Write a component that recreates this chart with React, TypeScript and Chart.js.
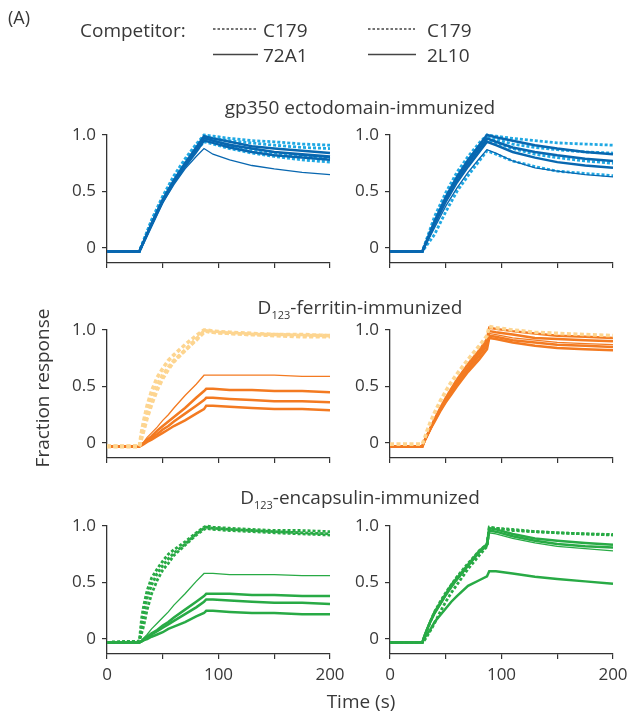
import React, { useEffect, useRef } from "react";
import { Chart, registerables } from "chart.js";

Chart.register(...registerables);

const FONT = "'Open Sans', sans-serif";
const TEXT = "#383838";
const AXIS = "#333333";

// ---- axis ticks ----
const X_TICKS = [0, 50, 100, 150, 200];
const X_TICK_LABELS = ["0", "", "100", "", "200"];
const Y_TICKS = [0, 0.5, 1.0];
const Y_TICK_LABELS = ["0", "0.5", "1.0"];

// ---- colours ----
const BLUE_DARK = "#0867b0";
const BLUE_LIGHT = "#1fa8e3";
const ORANGE = "#f37a21";
const ORANGE_PALE = "#fdd590";
const GREEN = "#28aa45";

// ---- time (s) ----
const T_GP350 = [0, 29, 40, 50, 60, 70, 80, 87, 95, 110, 130, 150, 175, 200];
const T_D123 = [0, 29, 31, 33, 36, 40, 45, 50, 55, 60, 70, 80, 87, 89, 95, 110, 130, 150, 175, 200];

// ---- gp350 ectodomain-immunized, left (72A1 / C179) ----
const GP_L_72A1_1 = [-0.03, -0.03, 0.22, 0.43, 0.6, 0.75, 0.89, 0.99, 0.97, 0.94, 0.9, 0.88, 0.86, 0.84];
const GP_L_72A1_2 = [-0.03, -0.03, 0.21, 0.42, 0.59, 0.74, 0.87, 0.97, 0.95, 0.91, 0.88, 0.85, 0.83, 0.81];
const GP_L_72A1_3 = [-0.03, -0.03, 0.2, 0.41, 0.58, 0.72, 0.85, 0.95, 0.93, 0.89, 0.85, 0.82, 0.8, 0.78];
const GP_L_72A1_4 = [-0.03, -0.03, 0.21, 0.42, 0.59, 0.74, 0.88, 0.98, 0.95, 0.92, 0.88, 0.85, 0.82, 0.8];
const GP_L_72A1_5 = [-0.03, -0.03, 0.2, 0.4, 0.56, 0.7, 0.81, 0.88, 0.83, 0.78, 0.73, 0.7, 0.67, 0.65];
const GP_L_C179_1 = [-0.03, -0.03, 0.25, 0.46, 0.64, 0.79, 0.92, 1.0, 0.99, 0.97, 0.95, 0.94, 0.92, 0.91];
const GP_L_C179_2 = [-0.03, -0.03, 0.24, 0.45, 0.62, 0.77, 0.91, 0.99, 0.97, 0.95, 0.93, 0.91, 0.89, 0.88];
const GP_L_C179_3 = [-0.03, -0.03, 0.23, 0.44, 0.61, 0.75, 0.89, 0.97, 0.95, 0.91, 0.87, 0.84, 0.81, 0.79];
const GP_L_C179_4 = [-0.03, -0.03, 0.22, 0.42, 0.59, 0.73, 0.86, 0.94, 0.92, 0.88, 0.84, 0.81, 0.78, 0.76];

// ---- gp350 ectodomain-immunized, right (2L10 / C179) ----
const GP_R_2L10_1 = [-0.03, -0.03, 0.24, 0.45, 0.63, 0.78, 0.91, 1.0, 0.98, 0.95, 0.91, 0.88, 0.85, 0.83];
const GP_R_2L10_2 = [-0.03, -0.03, 0.22, 0.43, 0.61, 0.75, 0.88, 0.97, 0.94, 0.89, 0.85, 0.82, 0.79, 0.77];
const GP_R_2L10_3 = [-0.03, -0.03, 0.21, 0.41, 0.58, 0.72, 0.85, 0.94, 0.91, 0.85, 0.8, 0.76, 0.73, 0.71];
const GP_R_2L10_4 = [-0.03, -0.03, 0.18, 0.37, 0.53, 0.67, 0.79, 0.87, 0.84, 0.77, 0.71, 0.68, 0.65, 0.63];
const GP_R_C179_1 = [-0.03, -0.03, 0.28, 0.49, 0.67, 0.81, 0.93, 1.0, 0.99, 0.97, 0.95, 0.93, 0.92, 0.91];
const GP_R_C179_2 = [-0.03, -0.03, 0.25, 0.46, 0.64, 0.78, 0.9, 0.98, 0.96, 0.92, 0.89, 0.87, 0.85, 0.84];
const GP_R_C179_3 = [-0.03, -0.03, 0.23, 0.43, 0.6, 0.75, 0.88, 0.96, 0.93, 0.88, 0.83, 0.8, 0.77, 0.75];
const GP_R_C179_4 = [-0.03, -0.03, 0.12, 0.32, 0.5, 0.64, 0.77, 0.86, 0.83, 0.77, 0.72, 0.68, 0.66, 0.64];

// ---- D123-ferritin-immunized, left ----
const FE_L_C179_1 = [-0.03, -0.03, 0.1, 0.2, 0.33, 0.46, 0.58, 0.66, 0.73, 0.78, 0.87, 0.95, 1.0, 1.0, 0.99, 0.98, 0.97, 0.96, 0.96, 0.95];
const FE_L_C179_2 = [-0.03, -0.03, 0.06, 0.14, 0.26, 0.39, 0.51, 0.6, 0.67, 0.73, 0.82, 0.91, 0.98, 0.99, 0.98, 0.97, 0.96, 0.95, 0.94, 0.94];
const FE_L_C179_3 = [-0.03, -0.03, 0.04, 0.11, 0.22, 0.34, 0.47, 0.57, 0.65, 0.72, 0.82, 0.92, 0.99, 0.99, 0.98, 0.97, 0.96, 0.96, 0.95, 0.95];
const FE_L_72A1_1 = [-0.03, -0.03, -0.01, 0.01, 0.05, 0.09, 0.14, 0.2, 0.25, 0.31, 0.42, 0.52, 0.6, 0.6, 0.6, 0.6, 0.6, 0.6, 0.59, 0.59];
const FE_L_72A1_2 = [-0.03, -0.03, -0.01, 0.0, 0.03, 0.06, 0.11, 0.15, 0.19, 0.23, 0.31, 0.4, 0.46, 0.48, 0.48, 0.47, 0.47, 0.46, 0.46, 0.45];
const FE_L_72A1_3 = [-0.03, -0.03, -0.02, 0.0, 0.02, 0.05, 0.08, 0.12, 0.15, 0.19, 0.26, 0.33, 0.38, 0.4, 0.4, 0.39, 0.38, 0.37, 0.37, 0.36];
const FE_L_72A1_4 = [-0.03, -0.03, -0.02, -0.01, 0.01, 0.03, 0.06, 0.09, 0.12, 0.15, 0.2, 0.26, 0.3, 0.33, 0.33, 0.32, 0.31, 0.3, 0.3, 0.29];

// ---- D123-ferritin-immunized, right ----
const FE_R_2L10_1 = [-0.03, -0.03, 0.02, 0.06, 0.13, 0.21, 0.31, 0.4, 0.48, 0.56, 0.7, 0.82, 0.92, 1.02, 1.01, 0.99, 0.97, 0.95, 0.94, 0.93];
const FE_R_2L10_2 = [-0.03, -0.03, 0.02, 0.06, 0.12, 0.21, 0.3, 0.38, 0.47, 0.54, 0.67, 0.8, 0.89, 0.99, 0.98, 0.96, 0.93, 0.92, 0.91, 0.9];
const FE_R_2L10_3 = [-0.03, -0.03, 0.02, 0.06, 0.12, 0.2, 0.29, 0.37, 0.45, 0.52, 0.65, 0.77, 0.86, 0.95, 0.94, 0.91, 0.89, 0.87, 0.86, 0.85];
const FE_R_2L10_4 = [-0.03, -0.03, 0.02, 0.06, 0.12, 0.19, 0.28, 0.36, 0.43, 0.5, 0.63, 0.74, 0.83, 0.93, 0.92, 0.89, 0.86, 0.84, 0.83, 0.82];
const FE_R_2L10_5 = [-0.03, -0.03, 0.02, 0.06, 0.12, 0.2, 0.3, 0.38, 0.46, 0.53, 0.66, 0.79, 0.88, 0.97, 0.96, 0.93, 0.91, 0.89, 0.88, 0.87];
const FE_R_C179_1 = [-0.01, -0.01, 0.04, 0.1, 0.18, 0.27, 0.37, 0.46, 0.54, 0.61, 0.74, 0.86, 0.95, 1.03, 1.02, 1.0, 0.98, 0.97, 0.96, 0.95];

// ---- D123-encapsulin-immunized, left ----
const EN_L_C179_1 = [-0.03, -0.02, 0.18, 0.3, 0.43, 0.54, 0.62, 0.69, 0.75, 0.79, 0.86, 0.94, 0.99, 1.0, 0.99, 0.98, 0.97, 0.96, 0.96, 0.95];
const EN_L_C179_2 = [-0.03, -0.02, 0.05, 0.12, 0.26, 0.4, 0.52, 0.61, 0.67, 0.74, 0.83, 0.92, 0.97, 0.98, 0.97, 0.96, 0.95, 0.94, 0.93, 0.92];
const EN_L_C179_3 = [-0.03, -0.02, 0.1, 0.22, 0.36, 0.48, 0.58, 0.65, 0.71, 0.76, 0.84, 0.93, 0.98, 0.99, 0.98, 0.97, 0.96, 0.95, 0.94, 0.93];
const EN_L_72A1_1 = [-0.03, -0.03, -0.01, 0.01, 0.04, 0.09, 0.14, 0.19, 0.24, 0.3, 0.4, 0.51, 0.58, 0.58, 0.58, 0.57, 0.57, 0.57, 0.56, 0.56];
const EN_L_72A1_2 = [-0.03, -0.03, -0.02, 0.0, 0.02, 0.05, 0.08, 0.12, 0.15, 0.19, 0.26, 0.33, 0.38, 0.4, 0.4, 0.4, 0.39, 0.39, 0.38, 0.38];
const EN_L_72A1_3 = [-0.03, -0.03, -0.02, -0.01, 0.01, 0.04, 0.07, 0.1, 0.13, 0.16, 0.22, 0.28, 0.33, 0.35, 0.35, 0.34, 0.33, 0.32, 0.32, 0.31];
const EN_L_72A1_4 = [-0.03, -0.03, -0.02, -0.01, 0.0, 0.02, 0.04, 0.06, 0.09, 0.11, 0.15, 0.2, 0.23, 0.25, 0.25, 0.24, 0.23, 0.23, 0.22, 0.22];

// ---- D123-encapsulin-immunized, right ----
const EN_R_2L10_1 = [-0.03, -0.03, 0.03, 0.08, 0.15, 0.24, 0.32, 0.4, 0.48, 0.54, 0.66, 0.78, 0.84, 0.98, 0.97, 0.93, 0.89, 0.87, 0.85, 0.835];
const EN_R_2L10_2 = [-0.03, -0.03, 0.03, 0.08, 0.15, 0.23, 0.31, 0.39, 0.47, 0.53, 0.65, 0.77, 0.83, 0.96, 0.95, 0.91, 0.87, 0.84, 0.82, 0.81];
const EN_R_2L10_3 = [-0.03, -0.03, 0.02, 0.07, 0.14, 0.22, 0.3, 0.38, 0.45, 0.52, 0.64, 0.76, 0.82, 0.94, 0.93, 0.89, 0.85, 0.82, 0.8, 0.78];
const EN_R_2L10_4 = [-0.03, -0.03, 0.01, 0.04, 0.08, 0.15, 0.21, 0.27, 0.33, 0.38, 0.47, 0.52, 0.555, 0.6, 0.6, 0.58, 0.55, 0.53, 0.51, 0.49];
const EN_R_C179_1 = [-0.03, -0.03, -0.01, 0.02, 0.07, 0.14, 0.24, 0.33, 0.41, 0.48, 0.62, 0.74, 0.82, 0.99, 0.98, 0.97, 0.95, 0.94, 0.93, 0.92];
const EN_R_C179_2 = [-0.03, -0.03, 0.02, 0.07, 0.15, 0.24, 0.33, 0.41, 0.48, 0.55, 0.67, 0.78, 0.84, 0.98, 0.98, 0.96, 0.95, 0.94, 0.93, 0.925];

type Style = "thick" | "thin" | "dot" | "dotPale";
interface Series { values: number[]; style: Style; color: string }
interface PanelSpec { left: number; top: number; time: number[]; series: Series[]; xLabels: boolean }

// layout geometry (px)
const AREA_W = 223;
const AREA_H = 128;
const Y_MIN = -0.1327;
const Y_MAX = 1.0;
const Y_W = 62;
const PAD_T = 14;
const PAD_R = 24;
const COL_L = [107, 390];
const ROW_T = [135, 330, 526];

const s = (values: number[], style: Style, color: string): Series => ({ values, style, color });

const PANELS: PanelSpec[] = [
  {
    left: COL_L[0], top: ROW_T[0], time: T_GP350, xLabels: false,
    series: [
      s(GP_L_72A1_5, "thin", BLUE_DARK), s(GP_L_72A1_4, "thin", BLUE_DARK),
      s(GP_L_72A1_3, "thick", BLUE_DARK), s(GP_L_72A1_2, "thick", BLUE_DARK), s(GP_L_72A1_1, "thick", BLUE_DARK),
      s(GP_L_C179_1, "dot", BLUE_LIGHT), s(GP_L_C179_2, "dot", BLUE_LIGHT), s(GP_L_C179_3, "dot", BLUE_LIGHT), s(GP_L_C179_4, "dot", BLUE_LIGHT),
    ],
  },
  {
    left: COL_L[1], top: ROW_T[0], time: T_GP350, xLabels: false,
    series: [
      s(GP_R_2L10_4, "thin", BLUE_DARK),
      s(GP_R_2L10_3, "thick", BLUE_DARK), s(GP_R_2L10_2, "thick", BLUE_DARK), s(GP_R_2L10_1, "thick", BLUE_DARK),
      s(GP_R_C179_1, "dot", BLUE_LIGHT), s(GP_R_C179_2, "dot", BLUE_LIGHT), s(GP_R_C179_3, "dot", BLUE_LIGHT), s(GP_R_C179_4, "dot", BLUE_LIGHT),
    ],
  },
  {
    left: COL_L[0], top: ROW_T[1], time: T_D123, xLabels: false,
    series: [
      s(FE_L_C179_1, "dotPale", ORANGE_PALE), s(FE_L_C179_2, "dotPale", ORANGE_PALE), s(FE_L_C179_3, "dotPale", ORANGE_PALE),
      s(FE_L_72A1_1, "thin", ORANGE), s(FE_L_72A1_2, "thick", ORANGE), s(FE_L_72A1_3, "thick", ORANGE), s(FE_L_72A1_4, "thick", ORANGE),
    ],
  },
  {
    left: COL_L[1], top: ROW_T[1], time: T_D123, xLabels: false,
    series: [
      s(FE_R_C179_1, "dotPale", ORANGE_PALE),
      s(FE_R_2L10_5, "thin", ORANGE), s(FE_R_2L10_1, "thick", ORANGE), s(FE_R_2L10_2, "thick", ORANGE),
      s(FE_R_2L10_3, "thick", ORANGE), s(FE_R_2L10_4, "thick", ORANGE),
    ],
  },
  {
    left: COL_L[0], top: ROW_T[2], time: T_D123, xLabels: true,
    series: [
      s(EN_L_72A1_1, "thin", GREEN), s(EN_L_72A1_2, "thick", GREEN), s(EN_L_72A1_3, "thick", GREEN), s(EN_L_72A1_4, "thick", GREEN),
      s(EN_L_C179_1, "dot", GREEN), s(EN_L_C179_2, "dot", GREEN), s(EN_L_C179_3, "dot", GREEN),
    ],
  },
  {
    left: COL_L[1], top: ROW_T[2], time: T_D123, xLabels: true,
    series: [
      s(EN_R_2L10_3, "thin", GREEN), s(EN_R_2L10_1, "thick", GREEN), s(EN_R_2L10_2, "thick", GREEN), s(EN_R_2L10_4, "thick", GREEN),
      s(EN_R_C179_1, "dot", GREEN), s(EN_R_C179_2, "dot", GREEN),
    ],
  },
];

const WIDTHS: Record<Style, number> = { thick: 2.5, thin: 1.3, dot: 2.8, dotPale: 3.6 };
const DASHES: Record<Style, number[]> = { thick: [], thin: [], dot: [3, 2], dotPale: [4, 2.5] };

function Panel({ spec }: { spec: PanelSpec }) {
  const ref = useRef<HTMLCanvasElement>(null);
  const xH = spec.xLabels ? 44 : 10;
  const W = Y_W + AREA_W + PAD_R;
  const H = PAD_T + AREA_H + xH;
  useEffect(() => {
    const chart = new Chart(ref.current!, {
      type: "line",
      data: {
        datasets: spec.series.map((sr) => ({
          data: spec.time.map((t, i) => ({ x: t, y: sr.values[i] })),
          borderColor: sr.color,
          backgroundColor: sr.color,
          borderWidth: WIDTHS[sr.style],
          borderDash: DASHES[sr.style],
          borderCapStyle: "butt" as const,
          pointRadius: 0,
          tension: 0,
          fill: false,
          clip: 8,
        })),
      },
      options: {
        animation: false,
        responsive: false,
        maintainAspectRatio: false,
        events: [],
        layout: { padding: { left: 0, top: PAD_T, right: PAD_R, bottom: 0 } },
        plugins: { legend: { display: false }, tooltip: { enabled: false }, title: { display: false } },
        scales: {
          x: {
            type: "linear",
            min: 0,
            max: 200,
            afterBuildTicks: (sc: any) => { sc.ticks = X_TICKS.map((v) => ({ value: v })); },
            afterFit: (sc: any) => { sc.height = xH; sc.paddingLeft = 0; sc.paddingRight = 0; },
            grid: { display: true, drawOnChartArea: false, drawTicks: true, tickLength: 5, color: AXIS, lineWidth: 1.2 },
            border: { display: true, color: AXIS, width: 1.3 },
            ticks: {
              autoSkip: false, maxRotation: 0, padding: 6, color: TEXT,
              font: { family: FONT, size: 17 },
              callback: (v: any) => (spec.xLabels ? X_TICK_LABELS[X_TICKS.indexOf(Number(v))] ?? "" : ""),
            },
          },
          y: {
            type: "linear",
            min: Y_MIN,
            max: Y_MAX,
            afterBuildTicks: (sc: any) => { sc.ticks = Y_TICKS.map((v) => ({ value: v })); },
            afterFit: (sc: any) => { sc.width = Y_W; sc.paddingTop = 0; sc.paddingBottom = 0; },
            grid: { display: true, drawOnChartArea: false, drawTicks: true, tickLength: 5, color: AXIS, lineWidth: 1.2 },
            border: { display: true, color: AXIS, width: 1.3 },
            ticks: {
              padding: 6, color: TEXT,
              font: { family: FONT, size: 17 },
              callback: (v: any) => Y_TICK_LABELS[Y_TICKS.indexOf(Number(v))] ?? "",
            },
          },
        },
      },
    } as any);
    return () => chart.destroy();
  }, [spec]);
  return (
    <canvas
      ref={ref}
      width={W}
      height={H}
      style={{ position: "absolute", left: spec.left - Y_W, top: spec.top - PAD_T, width: W, height: H }}
    />
  );
}

const TITLES = ["gp350 ectodomain-immunized", "-ferritin-immunized", "-encapsulin-immunized"];

export default function App() {
  const tf = { fontFamily: FONT, fill: TEXT } as const;
  return (
    <div style={{ position: "absolute", left: 0, top: 0, width: 630, height: 713, background: "#fff", overflow: "hidden" }}>
      {PANELS.map((p, i) => <Panel key={i} spec={p} />)}
      <svg width={630} height={713} style={{ position: "absolute", left: 0, top: 0, pointerEvents: "none" }}>
        <text x={8} y={24} fontSize={18} {...tf}>(A)</text>
        <text x={80} y={37} fontSize={19} {...tf}>Competitor:</text>
        <line x1={213} y1={29} x2={258} y2={29} stroke="#444" strokeWidth={1.3} strokeDasharray="2.5 2" />
        <text x={263} y={37} fontSize={19} {...tf}>C179</text>
        <line x1={213} y1={54.5} x2={258} y2={54.5} stroke="#444" strokeWidth={1.3} />
        <text x={263} y={62} fontSize={19} {...tf}>72A1</text>
        <line x1={368} y1={29} x2={415} y2={29} stroke="#444" strokeWidth={1.3} strokeDasharray="2.5 2" />
        <text x={427} y={37} fontSize={19} {...tf}>C179</text>
        <line x1={368} y1={54.5} x2={416} y2={54.5} stroke="#444" strokeWidth={1.3} />
        <text x={427} y={62} fontSize={19} {...tf}>2L10</text>

        <text x={360} y={114} fontSize={19} textAnchor="middle" {...tf}>{TITLES[0]}</text>
        <text x={360} y={314} fontSize={19} textAnchor="middle" {...tf}>
          D<tspan fontSize={11} dy={5}>123</tspan><tspan dy={-5}>{TITLES[1]}</tspan>
        </text>
        <text x={360} y={504} fontSize={19} textAnchor="middle" {...tf}>
          D<tspan fontSize={11} dy={5}>123</tspan><tspan dy={-5}>{TITLES[2]}</tspan>
        </text>

        <text transform="translate(48.5,388) rotate(-90)" fontSize={19} textAnchor="middle" {...tf}>Fraction response</text>
        <text x={361} y={708} fontSize={19} textAnchor="middle" {...tf}>Time (s)</text>
      </svg>
    </div>
  );
}
